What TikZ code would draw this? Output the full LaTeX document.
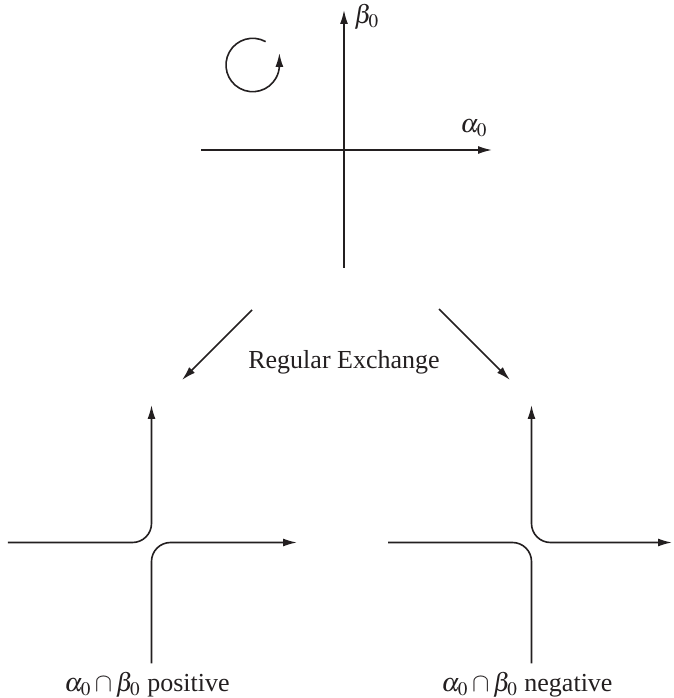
\documentclass[tikz,border=0pt]{standalone}
\usepackage{mathptmx}
\usepackage{fontspec}
\setmainfont{Liberation Serif}
\usepackage{tikz}
\usetikzlibrary{calc, arrows.meta}
\definecolor{InkDark}{RGB}{35, 31, 32}

\begin{document}
\begin{tikzpicture}[
        x=0.5pt, y=0.5pt,
        axis/.style={-{Latex[length=7pt, width=4pt]}, line width=0.8pt, InkDark},
        branch/.style={line width=0.8pt, InkDark, rounded corners=9.5pt},
        lbl/.style={font=\fontsize{13}{15}\selectfont, text=InkDark, inner sep=0pt}
      ]
        \useasboundingbox (0,0) rectangle (674,698);

        % Top axes
        \coordinate (hxL) at (201,548);
        \coordinate (hxR) at (492,548);
        \coordinate (vyB) at (344,430);
        \coordinate (vyT) at (344,688);
        \draw [axis] (hxL) -- (hxR);
        \draw [axis] (vyB) -- (vyT);
        \node [lbl, anchor=west] (beta) at (354,681) {$\beta_0$};
        \node [lbl] (alpha) at (474,570) {$\alpha_0$};

        % Sense of rotation
        \coordinate (rot) at (252.7,633);
        \draw [axis] ($(rot)+(61:26.7)$) arc [start angle=61, end angle=360, radius=26.7] -- ++(0,12);

        % Exchange
        \node [lbl] (exch) at (344,336) {Regular Exchange};
        \coordinate (exL0) at (252,388);
        \coordinate (exL1) at (182,318);
        \coordinate (exR0) at (439,389);
        \coordinate (exR1) at (510,318);
        \draw [axis] (exL0) -- (exL1);
        \draw [axis] (exR0) -- (exR1);

        % Positive crossing
        \coordinate (posC) at (151.5,155.5);
        \draw [branch, -{Latex[length=7pt, width=4pt]}] (8,155.5) -- (posC) -- ($(posC)+(0,137.5)$);
        \draw [branch, -{Latex[length=7pt, width=4pt]}] ($(posC)+(0,-121)$) -- (posC) -- ($(posC)+(145.5,0)$);
        \node [lbl, anchor=base] (posT) at (147,6) {$\alpha_0\cap\beta_0$ positive};

        % Negative crossing
        \coordinate (negC) at (531.5,155.5);
        \draw [branch] (388,155.5) -- (negC) -- ($(negC)+(0,-121)$);
        \draw [branch, {Latex[length=7pt, width=4pt]}-{Latex[length=7pt, width=4pt]}] ($(negC)+(0,137.5)$) -- (negC) -- ($(negC)+(140.5,0)$);
        \node [lbl, anchor=base] (negT) at (527,6) {$\alpha_0\cap\beta_0$ negative};
      \end{tikzpicture}
\end{document}
